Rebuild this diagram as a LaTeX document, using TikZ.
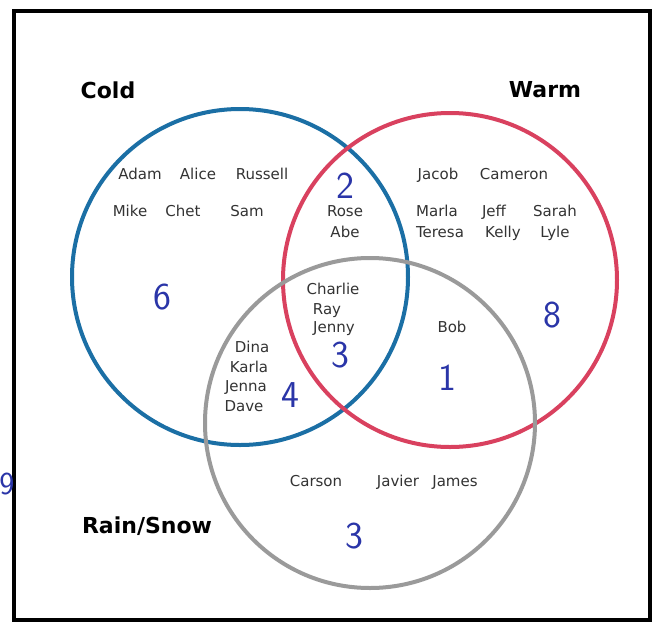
\documentclass[tikz,border=0pt]{standalone}
\usepackage{fontspec}
\usepackage[HTML]{xcolor}
\usepackage{tikz}
\usetikzlibrary{positioning}
\newfontfamily\namefont{DejaVu Sans}
\definecolor{coldblue}{HTML}{1B6FA5}
\definecolor{warmred}{HTML}{D9415F}
\definecolor{rainGray}{HTML}{9A9A9A}
\definecolor{penblue}{HTML}{2A35A8}

\begin{document}
\begin{tikzpicture}[x=1pt,y=-1pt,
  ring/.style={line width=4pt},
  title/.style={font=\namefont\bfseries\fontsize{22}{24}\selectfont},
  person/.style={font=\namefont\fontsize{15}{17}\selectfont, text=black!80, inner sep=0pt,
    text height=11pt, text depth=3pt},
  tally/.style={font=\sffamily\fontsize{38}{40}\selectfont, text=penblue, inner sep=0pt}]
\useasboundingbox (0,0) rectangle (662,622);
\fill[white] (0,0) rectangle (662,622);

% frame
\draw[line width=3.5pt] (14,11) rectangle (650,620);

% the three sets
\coordinate (cold) at (240,277);
\coordinate (warm) at (450,280);
\coordinate (rain) at (370,423);
\draw[ring, coldblue] (cold) circle[radius=168pt];
\draw[ring, warmred] (warm) circle[radius=167pt];
\draw[ring, rainGray] (rain) circle[radius=165pt];

\node[title] (tcold) at (108,90) {Cold};
\node[title] (twarm) at (545,90) {Warm};
\node[title] (train) at (147,526) {Rain/Snow};

% cold only
\node[person] (adam) at (140,175) {Adam};
\node[person] (alice) at (198,175) {Alice};
\node[person] (russell) at (262,175) {Russell};
\node[person] (mike) at (130,212) {Mike};
\node[person] (chet) at (183,212) {Chet};
\node[person] (sam) at (247,212) {Sam};

% cold and warm
\node[person] (rose) at (345,212) {Rose};
\node[person] (abe) at (345,233) {Abe};

% warm only
\node[person] (jacob) at (438,175) {Jacob};
\node[person] (cameron) at (514,175) {Cameron};
\node[person] (marla) at (437,212) {Marla};
\node[person] (jeff) at (494,212) {Jeff};
\node[person] (sarah) at (555,212) {Sarah};
\node[person] (teresa) at (440,233) {Teresa};
\node[person] (kelly) at (503,233) {Kelly};
\node[person] (lyle) at (555,233) {Lyle};

% all three
\node[person] (charlie) at (333,290) {Charlie};
\node[person] (ray) at (327,310) {Ray};
\node[person] (jenny) at (334,328) {Jenny};

% warm and rain
\node[person] (bob) at (452,328) {Bob};

% cold and rain
\node[person] (dina) at (252,348) {Dina};
\node[person] (karla) at (249,368) {Karla};
\node[person] (jenna) at (246,387) {Jenna};
\node[person] (dave) at (244,407) {Dave};

% rain only
\node[person] (carson) at (316,482) {Carson};
\node[person] (javier) at (398,482) {Javier};
\node[person] (james) at (455,482) {James};

% counts
\node[tally] (n2) at (345,186) {2};
\node[tally] (n6) at (162,297) {6};
\node[tally] (n3a) at (340,355) {3};
\node[tally] (n4) at (290,395) {4};
\node[tally] (n1) at (447,378) {1};
\node[tally] (n8) at (552,315) {8};
\node[tally] (n3b) at (354,536) {3};
\node[tally, font=\sffamily\fontsize{32}{34}\selectfont] (n9) at (7,484) {9};
\end{tikzpicture}
\end{document}
